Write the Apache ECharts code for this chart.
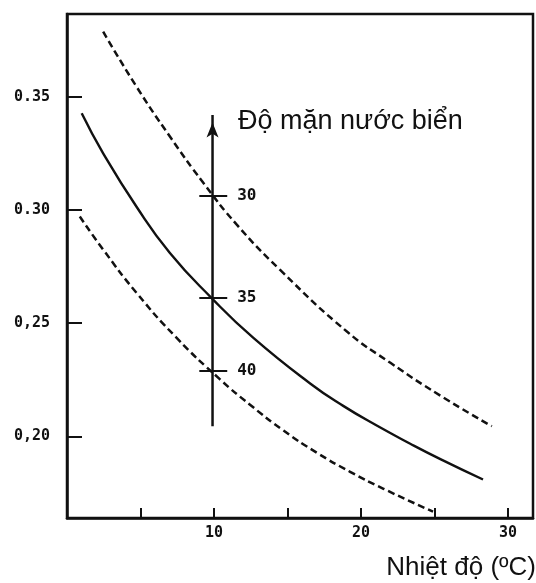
<html>
    <head>
        <meta charset="utf-8">
        <script src="https://cdn.jsdelivr.net/npm/echarts@6/dist/echarts.min.js"></script>
    </head>
    <body style="margin:0">
        <div id="main" style="width:536px;height:583px"></div>

        <script>

            // curves: [temperature, value]
            var salinity30 = [[2.46, 0.3787], [4.73, 0.3544], [7.0, 0.3324], [9.27, 0.312], [11.55, 0.2935],
                [14.5, 0.2735], [19.06, 0.2462], [22.0, 0.2325], [25.4, 0.218], [28.9, 0.2045]];
            var salinity35 = [[1.0, 0.3427], [2.46, 0.325], [4.73, 0.3014], [7.0, 0.281], [9.84, 0.2611],
                [12.68, 0.2435], [16.54, 0.2234], [18.79, 0.2135], [21.1, 0.2047], [23.35, 0.1968],
                [25.4, 0.19], [28.3, 0.181]];
            var salinity40 = [[0.87, 0.2971], [2.46, 0.2825], [4.73, 0.2634], [7.46, 0.2435], [10.41, 0.2252],
                [12.45, 0.214], [14.73, 0.2026], [17.0, 0.1928], [19.26, 0.1844], [21.53, 0.1769], [24.9, 0.1668]];

            // salinity scale drawn at 10 degrees
            var arrowX = 9.9;
            var arrowRange = [0.2045, 0.3419];
            var salinityLabels = ['30', '35', '40'];
            var salinityMarks = [0.3063, 0.2611, 0.2288];
            var markSpan = [9.0, 10.9];

            // axes
            var xLabelValues = [10, 20, 30];
            var yTickValues = [0.20, 0.25, 0.30, 0.35];
            var yTickLabels = ['0,20', '0,25', '0.30', '0.35'];

            var chart = echarts.init(document.getElementById('main'));

            var labelFont = {
                color: '#111',
                fontFamily: 'DejaVu Sans Mono',
                fontWeight: 'bold',
                fontSize: 15
            };

            var dashed = {
                color: '#111',
                width: 2.5,
                type: [7, 4]
            };

            chart.setOption({
                animation: false,
                grid: {
                    left: 67,
                    right: 3,
                    top: 14,
                    bottom: 65,
                    show: true,
                    borderColor: '#111',
                    borderWidth: 2.5
                },
                xAxis: {
                    type: 'value',
                    min: 0,
                    max: 31.7,
                    interval: 5,
                    axisLine: {lineStyle: {color: '#111', width: 2.5}},
                    axisTick: {inside: true, length: 10, lineStyle: {color: '#111', width: 2}},
                    splitLine: {show: false},
                    axisLabel: Object.assign({
                        customValues: xLabelValues,
                        margin: 8
                    }, labelFont)
                },
                yAxis: {
                    type: 'value',
                    min: 0.164,
                    max: 0.3865,
                    axisLine: {show: true, lineStyle: {color: '#111', width: 2.5}},
                    axisTick: {
                        show: true,
                        inside: true,
                        length: 15,
                        customValues: yTickValues,
                        lineStyle: {color: '#111', width: 2}
                    },
                    splitLine: {show: false},
                    axisLabel: Object.assign({
                        customValues: yTickValues,
                        margin: 17,
                        formatter: function (v) {
                            for (var i = 0; i < yTickValues.length; i++) {
                                if (Math.abs(yTickValues[i] - v) < 1e-6) {
                                    return yTickLabels[i];
                                }
                            }
                            return '';
                        }
                    }, labelFont)
                },
                series: [
                    {
                        name: '30',
                        type: 'line',
                        smooth: true,
                        showSymbol: false,
                        silent: true,
                        lineStyle: dashed,
                        data: salinity30
                    },
                    {
                        name: '35',
                        type: 'line',
                        smooth: true,
                        showSymbol: false,
                        silent: true,
                        lineStyle: {color: '#111', width: 2.4},
                        data: salinity35
                    },
                    {
                        name: '40',
                        type: 'line',
                        smooth: true,
                        showSymbol: false,
                        silent: true,
                        lineStyle: dashed,
                        data: salinity40
                    },
                    {
                        name: 'scale',
                        type: 'line',
                        silent: true,
                        lineStyle: {color: '#111', width: 2.5},
                        itemStyle: {color: '#111'},
                        data: [
                            {value: [arrowX, arrowRange[0]], symbol: 'none'},
                            {value: [arrowX, arrowRange[1]], symbol: 'arrow', symbolSize: [9, 15], symbolOffset: [0, '50%']}
                        ],
                        markLine: {
                            silent: true,
                            symbol: ['none', 'none'],
                            lineStyle: {color: '#111', width: 2, type: 'solid'},
                            label: Object.assign({
                                show: true,
                                position: 'end',
                                distance: 10,
                                formatter: '{b}'
                            }, labelFont, {fontSize: 16}),
                            data: salinityLabels.map(function (s, i) {
                                return [
                                    {coord: [markSpan[0], salinityMarks[i]], name: s},
                                    {coord: [markSpan[1], salinityMarks[i]]}
                                ];
                            })
                        }
                    }
                ],
                graphic: [
                    {
                        type: 'text',
                        x: 238,
                        y: 122,
                        style: {
                            text: 'Độ mặn nước biển',
                            fill: '#111',
                            fontFamily: 'Liberation Sans',
                            fontSize: 27,
                            verticalAlign: 'middle'
                        }
                    },
                    {
                        type: 'text',
                        x: 536,
                        y: 568,
                        style: {
                            text: 'Nhiệt độ (ºC)',
                            fill: '#111',
                            fontFamily: 'Liberation Sans',
                            fontSize: 26,
                            align: 'right',
                            verticalAlign: 'middle'
                        }
                    }
                ]
            });

        </script>
    </body>
</html>
